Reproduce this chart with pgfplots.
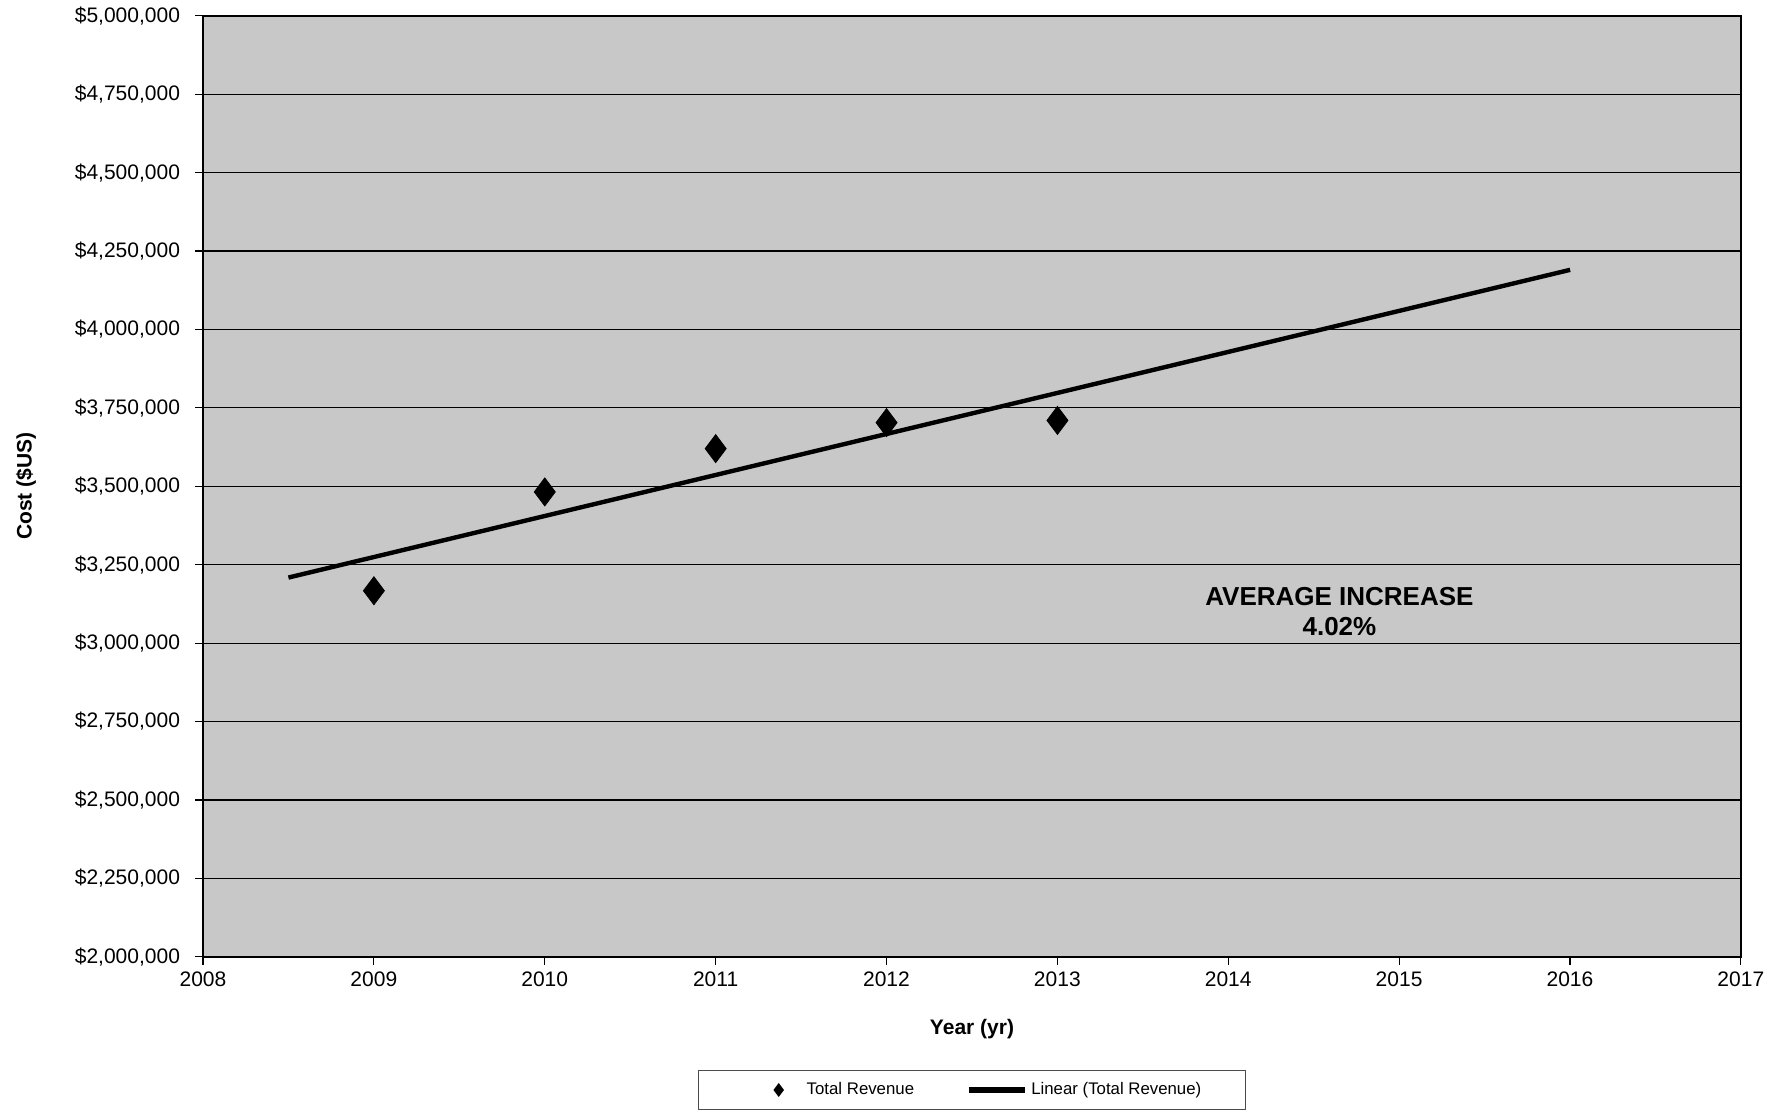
\documentclass[border=0pt]{standalone}
\usepackage{pgfplots}
\pgfplotsset{compat=1.18}
\usepackage{fontspec}
\setmainfont{Liberation Sans}
\definecolor{plotbg}{RGB}{200,200,200}
\begin{document}
\begin{tikzpicture}
\begin{axis}[
    scale only axis,
    width=769pt, height=470.5pt,
    xmin=2008, xmax=2017,
    ymin=2000000, ymax=5000000,
    axis background/.style={fill=plotbg},
    xtick={2008,...,2017},
    xticklabels={2008,2009,2010,2011,2012,2013,2014,2015,2016,2017},
    ytick={2000000,2250000,2500000,2750000,3000000,3250000,3500000,3750000,4000000,4250000,4500000,4750000,5000000},
    yticklabels={{\$2,000,000},{\$2,250,000},{\$2,500,000},{\$2,750,000},{\$3,000,000},{\$3,250,000},{\$3,500,000},{\$3,750,000},{\$4,000,000},{\$4,250,000},{\$4,500,000},{\$4,750,000},{\$5,000,000}},
    scaled y ticks=false,
    tick label style={font=\fontsize{10.5}{12}\selectfont},
    yticklabel style={xshift=-4pt},
    tick align=outside,
    major tick length=4pt,
    tick style={black, line width=0.6pt},
    xtick pos=bottom, ytick pos=left,
    ymajorgrids=true,
    major grid style={black, line width=0.6pt},
    axis line style={black, line width=0.8pt},
    xlabel={\textbf{Year (yr)}},
    ylabel={\textbf{Cost (\$US)}},
    label style={font=\fontsize{10.5}{12}\selectfont},
    xlabel style={at={(axis description cs:0.5,0)}, anchor=center, yshift=-36pt},
    ylabel style={at={(axis description cs:-0.115,0.5)}, anchor=center},
    legend columns=2,
    legend style={at={(axis description cs:0.5,0)}, anchor=north, yshift=-56.5pt,
        draw=black!70, line width=0.6pt, fill=white,
        font=\fontsize{8.4}{10}\selectfont,
        inner xsep=20pt, inner ysep=4pt,
        /tikz/every even column/.append style={column sep=24pt}},
]
\addplot[only marks, mark=diamond*, mark size=7pt, color=black,
    legend image code/.code={
        \path[draw=none, fill=none] (-20pt,-1pt) rectangle (12pt,1pt);
        \draw[black, fill=black, mark size=3pt] plot[mark=diamond*, only marks] coordinates {(0pt,0pt)};}]
coordinates {
    (2009,3167000)(2010,3482000)(2011,3620000)(2012,3703000)(2013,3710000)
};
\addlegendentry{Total Revenue}
\addplot[black, line width=2.2pt,
    legend image code/.code={\draw[black, line width=2.6pt] (0pt,0pt) -- (28pt,0pt);}]
coordinates {
    (2008.5,3209000)(2016,4190000)
};
\addlegendentry{Linear (Total Revenue)}
\node[align=center, font=\fontsize{13}{15}\selectfont\bfseries] at (axis cs:2014.65,3100000)
    {AVERAGE INCREASE\\4.02\%};
\coordinate (sw) at (rel axis cs:0,0);
\coordinate (ne) at (rel axis cs:1,1);
\end{axis}
\path ([shift={(-101.5pt,-77pt)}]sw) rectangle ([shift={(24.5pt,7pt)}]ne);
\end{tikzpicture}
\end{document}
